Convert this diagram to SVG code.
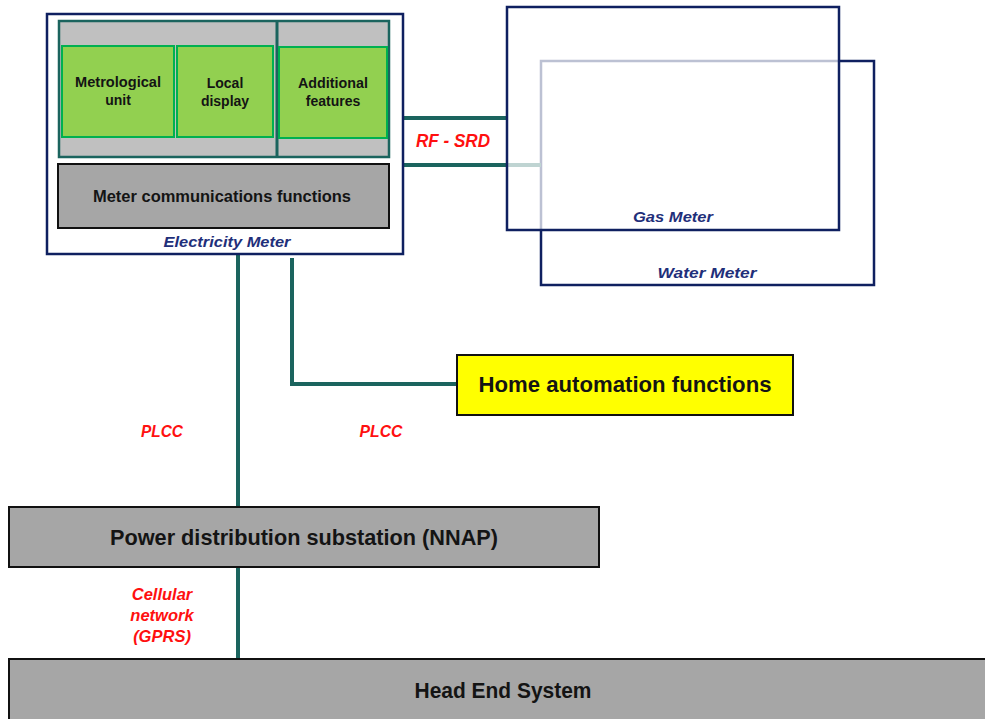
<svg xmlns="http://www.w3.org/2000/svg" width="985" height="719" viewBox="0 0 985 719">
  <style>
    .navy { fill: #ffffff; stroke: #0f2060; stroke-width: 2.5; }
    .panel { fill: #c0c0c0; stroke: #1b645e; stroke-width: 2.5; }
    .green { fill: #92d050; stroke: #00b050; stroke-width: 2; }
    .grey { fill: #a6a6a6; stroke: #111111; stroke-width: 2; }
    .yellow { fill: #ffff00; stroke: #111111; stroke-width: 2; }
    .link { fill: none; stroke: #1b645e; stroke-width: 4; }
    text { font-family: "Liberation Sans", Arial, sans-serif; font-weight: bold; text-anchor: middle; }
    .dark { fill: #141414; }
    .blue { fill: #1f2f7a; font-style: italic; }
    .red { fill: #ff1010; font-style: italic; }
  </style>

  <!-- Water meter sits behind the gas meter -->
  <g id="water-meter">
    <rect class="navy" x="541" y="61" width="333" height="224"/>
    <text class="blue" x="707" y="278" font-size="14.5" textLength="99" lengthAdjust="spacingAndGlyphs">Water Meter</text>
  </g>

  <!-- Connectors -->
  <g id="connectors">
    <line class="link" x1="403" y1="118" x2="507" y2="118"/>
    <line class="link" x1="403" y1="165" x2="541" y2="165"/>
    <line class="link" x1="238" y1="254" x2="238" y2="508"/>
    <polyline class="link" points="292,258 292,384 456,384"/>
    <line class="link" x1="238" y1="567" x2="238" y2="660"/>
  </g>

  <!-- Gas meter, translucent so the water meter shows faintly through -->
  <g id="gas-meter">
    <rect x="507" y="7" width="332" height="223" fill="#ffffff" fill-opacity="0.72" stroke="#0f2060" stroke-width="2.5"/>
    <text class="blue" x="673" y="222" font-size="14.5" textLength="80" lengthAdjust="spacingAndGlyphs">Gas Meter</text>
  </g>

  <g id="electricity-meter">
    <rect class="navy" x="47" y="14" width="356" height="240"/>
    <rect class="panel" x="59" y="21" width="330" height="136"/>
    <line x1="277" y1="21" x2="277" y2="157" stroke="#1b645e" stroke-width="3"/>
    <text class="blue" x="227" y="247" font-size="15" textLength="127" lengthAdjust="spacingAndGlyphs">Electricity Meter</text>
  </g>

  <g id="metrological-unit">
    <rect class="green" x="62" y="46" width="112" height="91"/>
    <text class="dark" x="118" y="87" font-size="14" textLength="86" lengthAdjust="spacingAndGlyphs">Metrological</text>
    <text class="dark" x="118" y="105" font-size="14">unit</text>
  </g>

  <g id="local-display">
    <rect class="green" x="177" y="46" width="96" height="91"/>
    <text class="dark" x="225" y="88" font-size="14">Local</text>
    <text class="dark" x="225" y="106" font-size="14">display</text>
  </g>

  <g id="additional-features">
    <rect class="green" x="279" y="47" width="108" height="91"/>
    <text class="dark" x="333" y="88" font-size="14" textLength="70" lengthAdjust="spacingAndGlyphs">Additional</text>
    <text class="dark" x="333" y="106" font-size="14">features</text>
  </g>

  <g id="meter-communications">
    <rect class="grey" x="58" y="164" width="331" height="64"/>
    <text class="dark" x="222" y="202" font-size="17" textLength="258" lengthAdjust="spacingAndGlyphs">Meter communications functions</text>
  </g>

  <g id="rf-srd-label">
    <text class="red" x="453" y="147" font-size="17.5" textLength="74" lengthAdjust="spacingAndGlyphs">RF - SRD</text>
  </g>

  <g id="home-automation">
    <rect class="yellow" x="457" y="355" width="336" height="60"/>
    <text class="dark" x="625" y="392" font-size="21.5" textLength="293" lengthAdjust="spacingAndGlyphs">Home automation functions</text>
  </g>

  <g id="plcc-labels">
    <text class="red" x="162" y="437" font-size="16.5" textLength="42" lengthAdjust="spacingAndGlyphs">PLCC</text>
    <text class="red" x="381" y="437" font-size="16.5" textLength="43" lengthAdjust="spacingAndGlyphs">PLCC</text>
  </g>

  <g id="power-substation">
    <rect class="grey" x="9" y="507" width="590" height="60"/>
    <text class="dark" x="304" y="545" font-size="21.5" textLength="388" lengthAdjust="spacingAndGlyphs">Power distribution substation (NNAP)</text>
  </g>

  <g id="cellular-label">
    <text class="red" x="162" y="600" font-size="16.5">Cellular</text>
    <text class="red" x="162" y="621" font-size="16.5">network</text>
    <text class="red" x="162" y="642" font-size="16.5">(GPRS)</text>
  </g>

  <g id="head-end">
    <rect class="grey" x="9" y="659" width="990" height="80"/>
    <text class="dark" x="503" y="698" font-size="21.5" textLength="177" lengthAdjust="spacingAndGlyphs">Head End System</text>
  </g>
</svg>
